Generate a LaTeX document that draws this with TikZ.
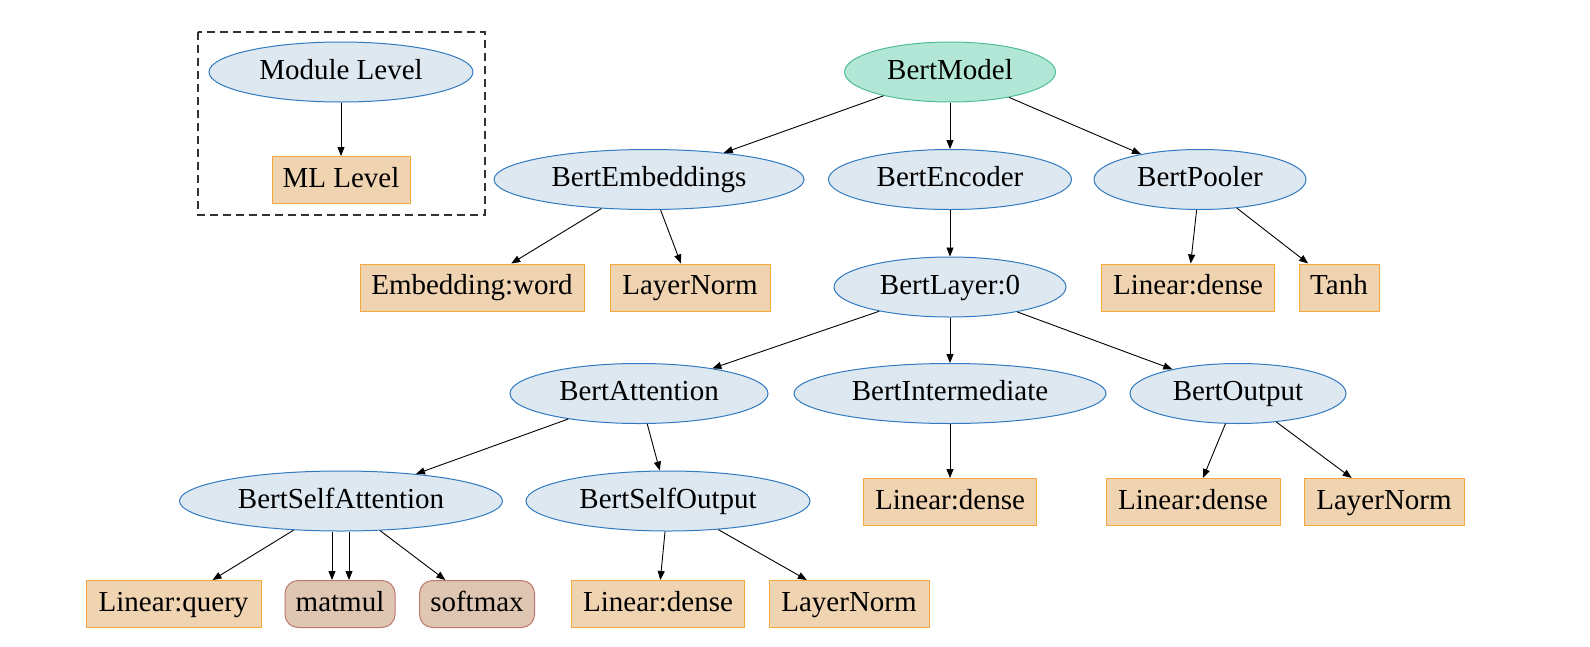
\documentclass[tikz,border=0pt]{standalone}
\usepackage{fontspec}
\setmainfont{Liberation Serif}
\usetikzlibrary{shapes.geometric,arrows.meta}
\definecolor{ellfill}{RGB}{222,232,241}
\definecolor{elldraw}{RGB}{47,122,192}
\definecolor{rootfill}{RGB}{178,230,215}
\definecolor{rootdraw}{RGB}{78,190,150}
\definecolor{boxfill}{RGB}{240,212,178}
\definecolor{boxdraw}{RGB}{245,168,60}
\definecolor{opfill}{RGB}{222,198,178}
\definecolor{opdraw}{RGB}{190,120,110}
\definecolor{legdraw}{RGB}{50,50,50}
\tikzset{
  every node/.style={font=\fontsize{29}{34}\selectfont, inner sep=0pt, text height=20pt, text depth=6pt},
  ell/.style={ellipse, draw=elldraw, fill=ellfill, line width=1pt, minimum height=60pt},
  root/.style={ellipse, draw=rootdraw, fill=rootfill, line width=1pt, minimum height=60pt},
  mlbox/.style={rectangle, draw=boxdraw, fill=boxfill, line width=1pt, minimum height=47pt},
  opbox/.style={rectangle, rounded corners=13pt, draw=opdraw, fill=opfill, line width=1pt, minimum height=47pt},
  arr/.style={-{Triangle[length=9pt,width=7pt]}, line width=0.9pt, black},
  legend/.style={draw=legdraw, line width=1.1pt, dash pattern=on 8pt off 5pt}
}
\begin{document}
\begin{tikzpicture}[x=1pt,y=-1pt]
\useasboundingbox (0,0) rectangle (1590,646);
% legend
\draw[legend] (198,32) rectangle (485,215);
\node[ell, minimum width=264pt] (mod) at (341,72) {Module Level};
\node[mlbox, minimum width=138pt] (mll) at (341,180) {ML Level};
\draw[arr] (mod) -- (mll);
% tree
\node[root, minimum width=211pt] (bm) at (950,72) {BertModel};
\node[ell, minimum width=310pt] (be) at (649,179.5) {BertEmbeddings};
\node[ell, minimum width=243pt] (benc) at (950,179.5) {BertEncoder};
\node[ell, minimum width=212pt] (bp) at (1200,179.5) {BertPooler};
\node[mlbox, minimum width=224pt] (ew) at (472,287.5) {Embedding:word};
\node[mlbox, minimum width=160pt] (ln1) at (690,287.5) {LayerNorm};
\node[ell, minimum width=232pt] (bl) at (950,287) {BertLayer:0};
\node[mlbox, minimum width=173pt] (pd) at (1188,287.5) {Linear:dense};
\node[mlbox, minimum width=80pt] (tanh) at (1339,287.5) {Tanh};
\node[ell, minimum width=258pt] (ba) at (639,393.5) {BertAttention};
\node[ell, minimum width=312pt] (bi) at (950,393.5) {BertIntermediate};
\node[ell, minimum width=216pt] (bo) at (1238,393.5) {BertOutput};
\node[ell, minimum width=323pt] (bsa) at (341,501) {BertSelfAttention};
\node[ell, minimum width=284pt] (bso) at (668,501) {BertSelfOutput};
\node[mlbox, minimum width=173pt] (idense) at (950,502) {Linear:dense};
\node[mlbox, minimum width=174pt] (odense) at (1193,502) {Linear:dense};
\node[mlbox, minimum width=160pt] (oln) at (1384,502) {LayerNorm};
\node[mlbox, minimum width=175pt] (lq) at (173.5,604) {Linear:query};
\node[opbox, minimum width=110pt] (mm) at (340,604) {matmul};
\node[opbox, minimum width=115pt] (sm) at (477,604) {softmax};
\node[mlbox, minimum width=173pt] (sod) at (658,604) {Linear:dense};
\node[mlbox, minimum width=160pt] (soln) at (849,604) {LayerNorm};
% edges
\draw[arr] (bm) -- (be);
\draw[arr] (bm) -- (benc);
\draw[arr] (bm) -- (bp);
\draw[arr] (be) -- (ew);
\draw[arr] (be) -- (ln1);
\draw[arr] (benc) -- (bl);
\draw[arr] (bp) -- (pd);
\draw[arr] (bp) -- (tanh);
\draw[arr] (bl) -- (ba);
\draw[arr] (bl) -- (bi);
\draw[arr] (bl) -- (bo);
\draw[arr] (ba) -- (bsa);
\draw[arr] (ba) -- (bso);
\draw[arr] (bi) -- (idense);
\draw[arr] (bo) -- (odense);
\draw[arr] (bo) -- (oln);
\draw[arr] (bsa) -- (lq);
\draw[arr] ([xshift=-9pt]bsa.south) -- ([xshift=-8pt]mm.north);
\draw[arr] ([xshift=8pt]bsa.south) -- ([xshift=9pt]mm.north);
\draw[arr] (bsa) -- (sm);
\draw[arr] (bso) -- (sod);
\draw[arr] (bso) -- (soln);
\end{tikzpicture}
\end{document}
